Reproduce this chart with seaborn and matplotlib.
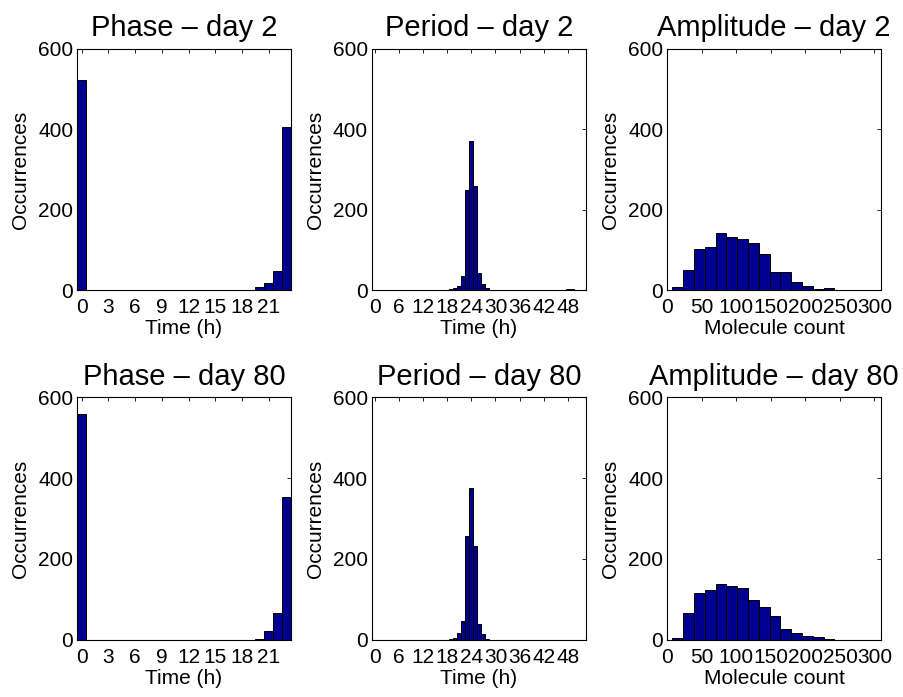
"""Histograms of phase, period and amplitude at day 2 and day 80."""

import numpy as np
import pandas as pd
import matplotlib

matplotlib.use("Agg")
import matplotlib.pyplot as plt
import seaborn as sns

# ------------------------------------------------------------------ data
# phase histogram: one bin per hour, centred on 0..23
phase_centers = np.arange(24)
phase_day2 = [523, 0, 0, 0, 0, 0, 0, 0, 0, 0, 0, 0,
              0, 0, 0, 0, 0, 0, 0, 0, 8, 18, 48, 405]
phase_day80 = [559, 1, 0, 0, 0, 0, 0, 0, 0, 0, 0, 0,
               0, 0, 0, 0, 0, 0, 0, 1, 2, 21, 66, 353]
phase_ticks = [0, 3, 6, 9, 12, 15, 18, 21]

# period histogram: one bin per hour, centred on 0..52
period_centers = np.arange(53)
period_day2 = [1, 0, 0, 0, 0, 0, 0, 0, 0, 0, 0, 0, 0, 0, 0, 0, 0, 1, 1, 2,
               4, 10, 35, 248, 370, 260, 42, 14, 4, 1, 0, 0, 0, 0, 0, 0, 0,
               0, 0, 0, 0, 0, 0, 0, 0, 0, 0, 0, 2, 3, 0, 0, 0]
period_day80 = [1, 0, 0, 0, 0, 0, 0, 0, 0, 0, 0, 0, 0, 0, 0, 0, 0, 0, 1, 2,
                5, 18, 47, 257, 375, 232, 40, 15, 2, 1, 0, 0, 0, 0, 0, 0, 0,
                0, 0, 0, 0, 0, 0, 0, 0, 0, 0, 0, 0, 0, 0, 0, 0]
period_ticks = [0, 6, 12, 18, 24, 30, 36, 42, 48]

# amplitude histogram: 19 bins of ~15.65 molecules
amp_width = 15.65
amp_centers = 7.3 + amp_width / 2 + amp_width * np.arange(19)
amp_day2 = [7, 50, 101, 108, 143, 133, 127, 116, 89, 46, 46, 19, 9, 3, 5, 1, 0, 1, 0]
amp_day80 = [6, 66, 115, 124, 139, 134, 128, 99, 82, 59, 27, 17, 9, 7, 2, 1, 1, 0, 0]
amp_ticks = [0, 50, 100, 150, 200, 250, 300]

y_ticks = [0, 200, 400, 600]

# ------------------------------------------------------------------ style
BAR_COLOR = "#00008F"
sns.set_style("white")
plt.rcParams["font.family"] = ["Liberation Sans", "DejaVu Sans"]
plt.rcParams["axes.linewidth"] = 0.8
plt.rcParams["text.color"] = "black"
plt.rcParams["axes.labelcolor"] = "black"

fig = plt.figure(figsize=(9.04, 6.97), dpi=100)

col_left = [0.0855, 0.4118, 0.7382]
col_width = 0.236
row_bottom = [0.5839, 0.0818]
row_height = [0.3458, 0.3486]

panels = [
    # (row, col, title, centers, counts, width, xlim, xticks, xlabel)
    (0, 0, "Phase \u2013 day 2", phase_centers, phase_day2, 1.0,
     (-0.5, 23.45), phase_ticks, "Time (h)"),
    (0, 1, "Period \u2013 day 2", period_centers, period_day2, 1.0,
     (-0.6, 52.4), period_ticks, "Time (h)"),
    (0, 2, "Amplitude \u2013 day 2", amp_centers, amp_day2, amp_width,
     (0, 309), amp_ticks, "Molecule count"),
    (1, 0, "Phase \u2013 day 80", phase_centers, phase_day80, 1.0,
     (-0.5, 23.45), phase_ticks, "Time (h)"),
    (1, 1, "Period \u2013 day 80", period_centers, period_day80, 1.0,
     (-0.6, 52.4), period_ticks, "Time (h)"),
    (1, 2, "Amplitude \u2013 day 80", amp_centers, amp_day80, amp_width,
     (0, 309), amp_ticks, "Molecule count"),
]

for row, col, title, centers, counts, width, xlim, xticks, xlabel in panels:
    ax = fig.add_axes([col_left[col], row_bottom[row], col_width, row_height[row]])
    hist_df = pd.DataFrame({"value": centers, "count": counts})
    # bin edges as a plain list (seaborn compares bins with "auto")
    edges = list(np.append(hist_df["value"] - width / 2, centers[-1] + width / 2))
    sns.histplot(
        data=hist_df,
        x="value",
        weights="count",
        bins=edges,
        color=BAR_COLOR,
        edgecolor="black",
        linewidth=0.7,
        alpha=1.0,
        ax=ax,
    )
    ax.set_xlim(*xlim)
    ax.set_ylim(0, 600)
    ax.set_xticks(xticks)
    ax.set_yticks(y_ticks)
    ax.tick_params(axis="both", direction="in", length=3, width=0.6,
                   top=True, right=True, labelsize=15, colors="black")
    ax.tick_params(axis="x", pad=6)
    ax.tick_params(axis="y", pad=3)
    for spine in ax.spines.values():
        spine.set_visible(True)
        spine.set_color("black")
        spine.set_linewidth(0.8)
    ax.set_title(title, fontsize=21, pad=9)
    ax.set_xlabel(xlabel, fontsize=15, labelpad=1)
    ax.set_ylabel("Occurrences", fontsize=15, labelpad=6)

fig.savefig("out.png", dpi=100)
